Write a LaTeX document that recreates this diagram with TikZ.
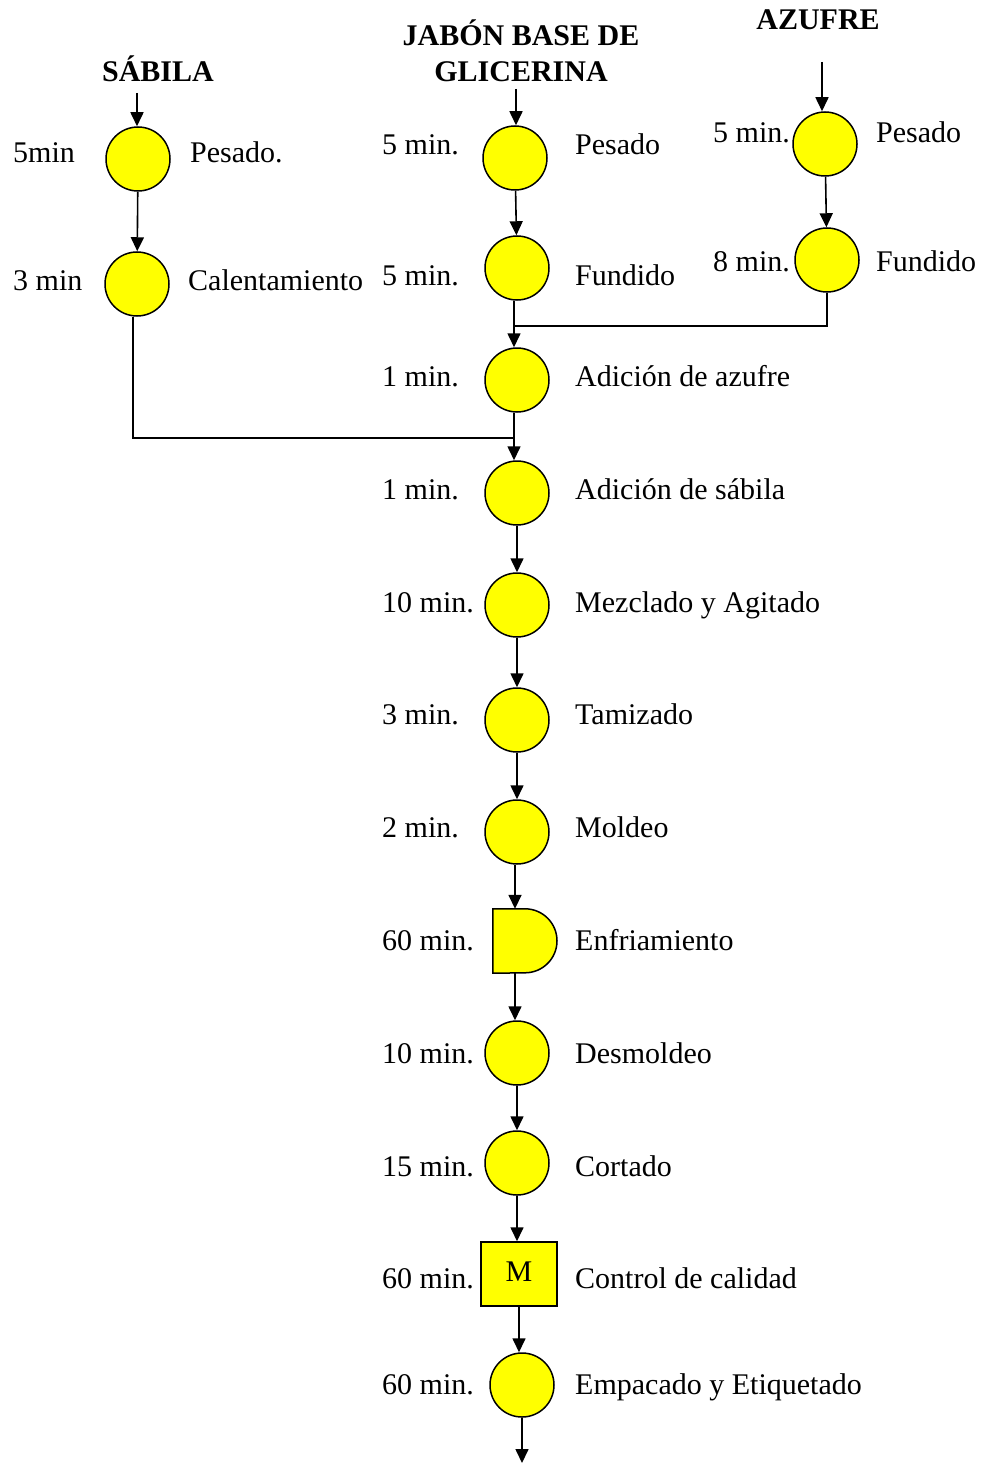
\documentclass[tikz,border=0pt]{standalone}
\usepackage{fontspec}
\setmainfont{Liberation Serif}
\usetikzlibrary{arrows.meta}
\definecolor{procyellow}{RGB}{255,255,0}
\tikzset{
  op/.style={circle,draw=black,fill=procyellow,line width=1.5pt,minimum size=64pt,inner sep=0pt},
  insp/.style={rectangle,draw=black,fill=procyellow,line width=1.5pt,minimum width=76pt,minimum height=64pt,inner sep=0pt},
  ghost/.style={rectangle,minimum width=64pt,minimum height=64pt,inner sep=0pt},
  lbl/.style={anchor=base west,inner sep=0pt,font=\fontsize{30}{35}\selectfont},
  ttl/.style={anchor=base,inner sep=0pt,font=\fontsize{30}{35}\selectfont\bfseries},
  arr/.style={line width=1.6pt,-{Triangle[length=14pt,width=13pt]}},
  ln/.style={line width=1.6pt}
}
\begin{document}
\begin{tikzpicture}[x=1pt,y=-1pt]
\useasboundingbox (0,0) rectangle (983,1463);
% titles
\node[ttl] (tsab) at (158,82) {SÁBILA};
\node[ttl] (tjab1) at (521,46) {JABÓN BASE DE};
\node[ttl] (tjab2) at (521,82) {GLICERINA};
\node[ttl] (tazu) at (818,30) {AZUFRE};
% sabila column
\node[op] (s1) at (138,159) {};
\node[op] (s2) at (137,284) {};
\node[lbl] (s1t) at (13,163) {5min};
\node[lbl] (s1d) at (190,163) {Pesado.};
\node[lbl] (s2t) at (13,290) {3 min};
\node[lbl] (s2d) at (188,290) {Calentamiento};
% azufre column
\node[op] (z1) at (825,144) {};
\node[op] (z2) at (827,260) {};
\node[lbl] (z1t) at (713,143) {5 min.};
\node[lbl] (z1d) at (876,143) {Pesado};
\node[lbl] (z2t) at (713,272) {8 min.};
\node[lbl] (z2d) at (876,272) {Fundido};
% main column
\node[op] (j1) at (515,158) {};
\node[op] (j2) at (517,268) {};
\node[op] (a1) at (517,380) {};
\node[op] (a2) at (517,493) {};
\node[op] (mz) at (517,605) {};
\node[op] (tm) at (517,720) {};
\node[op] (md) at (517,832) {};
\node[ghost] (en) at (525,941) {};
\draw[line width=1.5pt,fill=procyellow] (en.north west) -- (en.north) arc[start angle=-90,end angle=90,radius=32] -- (en.south west) -- cycle;
\node[op] (dm) at (517,1053) {};
\node[op] (ct) at (517,1163) {};
\node[insp] (cc) at (519,1274) {};
\node[inner sep=0pt,anchor=base,font=\fontsize{30}{35}\selectfont] (ccm) at (519,1281) {M};
\node[op] (em) at (522,1385) {};
% main labels
\node[lbl] (j1t) at (382,155) {5 min.};
\node[lbl] (j1d) at (575,155) {Pesado};
\node[lbl] (j2t) at (382,285) {5 min.};
\node[lbl] (j2d) at (575,285) {Fundido};
\node[lbl] (a1t) at (382,386) {1 min.};
\node[lbl] (a1d) at (575,386) {Adición de azufre};
\node[lbl] (a2t) at (382,499) {1 min.};
\node[lbl] (a2d) at (575,499) {Adición de sábila};
\node[lbl] (mzt) at (382,612) {10 min.};
\node[lbl] (mzd) at (575,612) {Mezclado y Agitado};
\node[lbl] (tmt) at (382,724) {3 min.};
\node[lbl] (tmd) at (575,724) {Tamizado};
\node[lbl] (mdt) at (382,837) {2 min.};
\node[lbl] (mdd) at (575,837) {Moldeo};
\node[lbl] (ent) at (382,950) {60 min.};
\node[lbl] (end) at (575,950) {Enfriamiento};
\node[lbl] (dmt) at (382,1063) {10 min.};
\node[lbl] (dmd) at (575,1063) {Desmoldeo};
\node[lbl] (ctt) at (382,1176) {15 min.};
\node[lbl] (ctd) at (575,1176) {Cortado};
\node[lbl] (cct) at (382,1288) {60 min.};
\node[lbl] (ccd) at (575,1288) {Control de calidad};
\node[lbl] (emt) at (382,1394) {60 min.};
\node[lbl] (emd) at (575,1394) {Empacado y Etiquetado};
% connectors
\coordinate (s0) at (137,93);
\coordinate (j0) at (516,89);
\coordinate (z0) at (822,62);
\coordinate (ja) at (514,326);
\coordinate (js) at (514,438);
\coordinate (sx) at (133,0);
\coordinate (mx) at (515,0);
\coordinate (fin) at (522,1463);
\draw[arr] (s0) -- (s0 |- s1.north);
\draw[arr] (s1) -- (s2);
\draw[arr] (j0) -- (j0 |- j1.north);
\draw[arr] (j1) -- (j2);
\draw[arr] (z0) -- (z0 |- z1.north);
\draw[arr] (z1) -- (z2);
\draw[ln] (j2.south -| ja) -- (ja);
\draw[arr] (ja) -- (ja |- a1.north);
\draw[ln] (z2.south) |- (ja);
\draw[ln] (a1.south -| js) -- (js);
\draw[arr] (js) -- (js |- a2.north);
\draw[ln] (s2.south -| sx) |- (js);
\draw[arr] (a2) -- (mz);
\draw[arr] (mz) -- (tm);
\draw[arr] (tm) -- (md);
\draw[arr] (md.south -| mx) -- (mx |- en.north);
\draw[arr] (en.south -| mx) -- (mx |- dm.north);
\draw[arr] (dm) -- (ct);
\draw[arr] (ct.south) -- (ct.south |- cc.north);
\draw[arr] (cc.south) -- (cc.south |- em.north);
\draw[arr] (em.south) -- (em.south |- fin);
\end{tikzpicture}
\end{document}
